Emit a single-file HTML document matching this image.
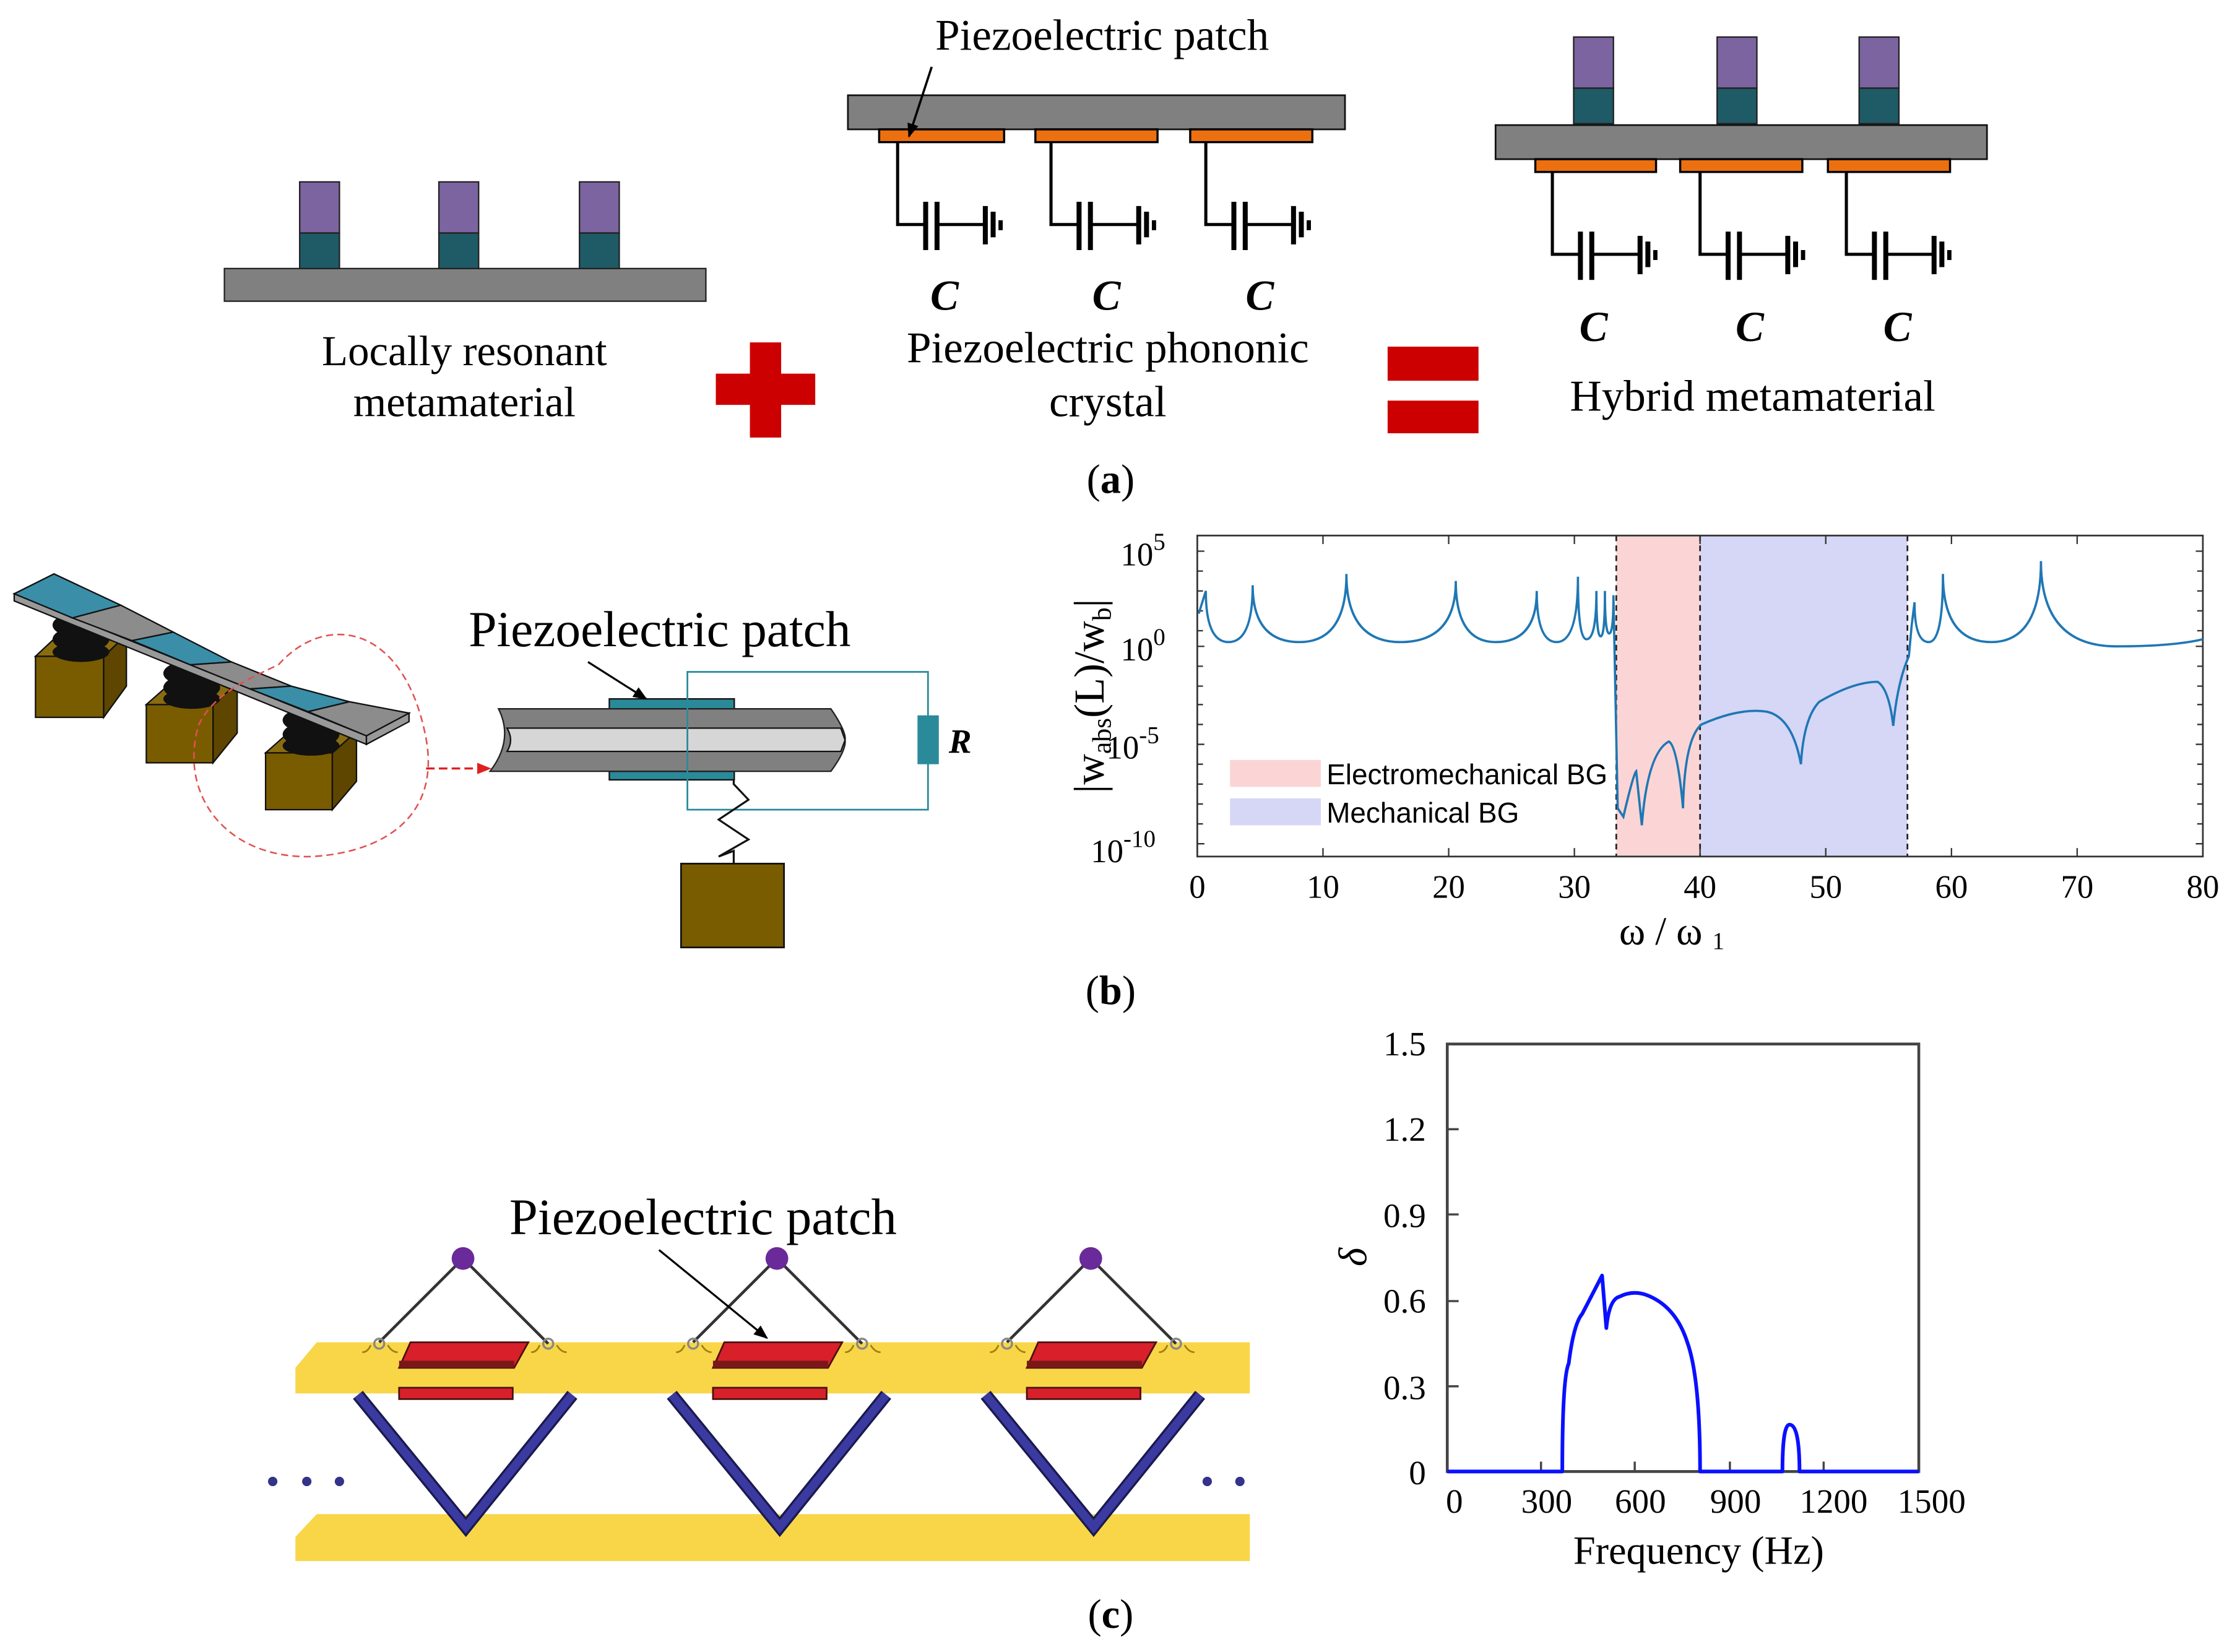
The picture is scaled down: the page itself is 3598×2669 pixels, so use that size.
<!DOCTYPE html>
<html><head><meta charset="utf-8"><style>
html,body{margin:0;padding:0;background:#fff;}
svg{display:block;}
.s{font-family:"Liberation Serif",serif;}
.a{font-family:"Liberation Sans",sans-serif;}
</style></head><body>
<svg width="3598" height="2669" viewBox="0 0 1568 1163" xmlns="http://www.w3.org/2000/svg">
<defs>
<g id="circ">
<path d="M0,0 V58 H20" fill="none" stroke="#000" stroke-width="2.2"/>
<rect x="18" y="42" width="3.5" height="34" fill="#000"/>
<rect x="26" y="42" width="3.5" height="34" fill="#000"/>
<line x1="29" y1="58" x2="61" y2="58" stroke="#000" stroke-width="2.2"/>
<rect x="60" y="45" width="3.5" height="27" fill="#000"/>
<rect x="65.5" y="49" width="3.5" height="18" fill="#000"/>
<rect x="71" y="55" width="3" height="7" fill="#000"/>
</g>
<g id="res">
<rect x="0" y="0" width="28" height="36" fill="#7b64a0" stroke="#222" stroke-width="1"/>
<rect x="0" y="36" width="28" height="25" fill="#1e5b66" stroke="#222" stroke-width="1"/>
</g>
<marker id="ah" markerWidth="10" markerHeight="8" refX="9" refY="4" orient="auto" markerUnits="userSpaceOnUse"><path d="M0,0 L10,4 L0,8 Z" fill="#000"/></marker>
<marker id="ahr" markerWidth="10" markerHeight="8" refX="9" refY="4" orient="auto" markerUnits="userSpaceOnUse"><path d="M0,0 L10,4 L0,8 Z" fill="#e02020"/></marker>
<g id="cell">
<path d="M252,982 L328,1075 L403,982" fill="none" stroke="#1a1a50" stroke-width="9"/>
<path d="M252,982 L328,1075 L403,982" fill="none" stroke="#3a3aa0" stroke-width="6"/>
<line x1="326" y1="886" x2="267" y2="945" stroke="#333" stroke-width="2"/>
<line x1="326" y1="886" x2="386" y2="946" stroke="#333" stroke-width="2"/>
<circle cx="326" cy="886" r="8" fill="#6a2a9a"/>
<circle cx="267" cy="946" r="3.5" fill="none" stroke="#888" stroke-width="1.5"/>
<circle cx="386" cy="946" r="3.5" fill="none" stroke="#888" stroke-width="1.5"/>
<path d="M255,952 q4,0 6,-5 M273,947 q3,5 7,5 M374,952 q4,0 6,-5 M392,947 q3,5 7,5" stroke="#a08010" stroke-width="1.2" fill="none"/>
<path d="M289,945 L372,945 L362,963 L281,963 Z" fill="#d8202a" stroke="#4a1010" stroke-width="1.2"/>
<rect x="281" y="958" width="81" height="5" fill="#7a1818"/>
<rect x="281" y="977" width="80" height="8" fill="#d8202a" stroke="#4a1010" stroke-width="1.2"/>
</g>
</defs>

<!-- (a) left -->
<rect x="158" y="189" width="339" height="23" fill="#808080" stroke="#222" stroke-width="1"/>
<use href="#res" x="211" y="128"/><use href="#res" x="309" y="128"/><use href="#res" x="408" y="128"/>
<text class="s" x="327" y="257" font-size="30" text-anchor="middle">Locally resonant</text>
<text class="s" x="327" y="293" font-size="30" text-anchor="middle">metamaterial</text>
<rect x="504" y="263" width="70" height="22" fill="#cc0000"/>
<rect x="528" y="241" width="22" height="67" fill="#cc0000"/>

<!-- (a) middle -->
<rect x="597" y="67" width="350" height="24" fill="#808080" stroke="#111" stroke-width="1.2"/>
<rect x="619" y="91" width="88" height="9" fill="#ec7010" stroke="#000" stroke-width="1.5"/>
<rect x="729" y="91" width="86" height="9" fill="#ec7010" stroke="#000" stroke-width="1.5"/>
<rect x="838" y="91" width="86" height="9" fill="#ec7010" stroke="#000" stroke-width="1.5"/>
<use href="#circ" x="632" y="100"/><use href="#circ" x="740" y="100"/><use href="#circ" x="849" y="100"/>
<text class="s" x="665" y="218" font-size="30" font-weight="bold" font-style="italic" text-anchor="middle">C</text>
<text class="s" x="779" y="218" font-size="30" font-weight="bold" font-style="italic" text-anchor="middle">C</text>
<text class="s" x="887" y="218" font-size="30" font-weight="bold" font-style="italic" text-anchor="middle">C</text>
<text class="s" x="776" y="35" font-size="31" text-anchor="middle">Piezoelectric patch</text>
<line x1="656" y1="47" x2="640" y2="96" stroke="#000" stroke-width="1.6" marker-end="url(#ah)"/>
<text class="s" x="780" y="255" font-size="31" text-anchor="middle">Piezoelectric phononic</text>
<text class="s" x="780" y="293" font-size="31" text-anchor="middle">crystal</text>
<rect x="977" y="244" width="64" height="24" fill="#cc0000"/>
<rect x="977" y="282" width="64" height="23" fill="#cc0000"/>

<!-- (a) right -->
<use href="#res" x="1108" y="26"/><use href="#res" x="1209" y="26"/><use href="#res" x="1309" y="26"/>
<rect x="1053" y="88" width="346" height="24" fill="#808080" stroke="#111" stroke-width="1.2"/>
<rect x="1081" y="112" width="85" height="9" fill="#ec7010" stroke="#000" stroke-width="1.5"/>
<rect x="1183" y="112" width="86" height="9" fill="#ec7010" stroke="#000" stroke-width="1.5"/>
<rect x="1287" y="112" width="86" height="9" fill="#ec7010" stroke="#000" stroke-width="1.5"/>
<use href="#circ" x="1093" y="121"/><use href="#circ" x="1197" y="121"/><use href="#circ" x="1300" y="121"/>
<text class="s" x="1122" y="240" font-size="30" font-weight="bold" font-style="italic" text-anchor="middle">C</text>
<text class="s" x="1232" y="240" font-size="30" font-weight="bold" font-style="italic" text-anchor="middle">C</text>
<text class="s" x="1336" y="240" font-size="30" font-weight="bold" font-style="italic" text-anchor="middle">C</text>
<text class="s" x="1234" y="289" font-size="31" text-anchor="middle">Hybrid metamaterial</text>
<text class="s" x="782" y="347" font-size="29" text-anchor="middle">(<tspan font-weight="bold">a</tspan>)</text>

<!-- (b) 3D beam -->
<g stroke="#111" stroke-width="1">
<rect x="25" y="462" width="48" height="43" fill="#7a5c00"/>
<path d="M73,462 L89,447 L89,483 L73,505 Z" fill="#5e4600"/>
<path d="M25,462 L41,447 L89,447 L73,462 Z" fill="#8a6c10"/>
<rect x="103" y="496" width="47" height="41" fill="#7a5c00"/>
<path d="M150,496 L167,481 L167,516 L150,537 Z" fill="#5e4600"/>
<path d="M103,496 L120,481 L167,481 L150,496 Z" fill="#8a6c10"/>
<rect x="187" y="530" width="47" height="40" fill="#7a5c00"/>
<path d="M234,530 L251,515 L251,550 L234,570 Z" fill="#5e4600"/>
<path d="M187,530 L204,515 L251,515 L234,530 Z" fill="#8a6c10"/>
</g>
<g fill="#111">
<ellipse cx="57" cy="440" rx="20" ry="9"/><ellipse cx="57" cy="450" rx="20" ry="9"/><ellipse cx="57" cy="459" rx="20" ry="7"/>
<ellipse cx="135" cy="474" rx="20" ry="9"/><ellipse cx="135" cy="484" rx="20" ry="9"/><ellipse cx="135" cy="492" rx="20" ry="7"/>
<ellipse cx="219" cy="507" rx="20" ry="9"/><ellipse cx="219" cy="517" rx="20" ry="9"/><ellipse cx="219" cy="525" rx="20" ry="7"/>
</g>
<path d="M10,418 L258,518 L258,524 L10,423 Z" fill="#999" stroke="#111" stroke-width="1"/>
<path d="M258,518 L288,502 L288,508 L258,524 Z" fill="#999" stroke="#111" stroke-width="1"/>
<g stroke="#111" stroke-width="1">
<path d="M10,418 L38,404 L85,426 L51,435 Z" fill="#3a8ea8"/>
<path d="M51,435 L85,426 L122,445 L93,451 Z" fill="#8c8c8c"/>
<path d="M93,451 L122,445 L163,466 L134,468 Z" fill="#3a8ea8"/>
<path d="M134,468 L163,466 L205,483 L176,485 Z" fill="#8c8c8c"/>
<path d="M176,485 L205,483 L246,494 L217,501 Z" fill="#3a8ea8"/>
<path d="M217,501 L246,494 L288,502 L258,518 Z" fill="#8c8c8c"/>
</g>
<path d="M196,468 C230,430 285,440 300,520 C310,575 270,600 220,603 C160,605 125,560 140,510 C150,490 170,480 196,468 Z" fill="none" stroke="#e05050" stroke-width="1.1" stroke-dasharray="5,3"/>
<line x1="300" y1="541" x2="345" y2="541" stroke="#e02020" stroke-width="1.5" stroke-dasharray="6,3" marker-end="url(#ahr)"/>

<!-- (b) beam section -->
<rect x="429" y="492" width="88" height="7" fill="#2a8a9a" stroke="#111" stroke-width="1"/>
<rect x="429" y="543" width="88" height="6" fill="#2a8a9a" stroke="#111" stroke-width="1"/>
<path d="M351,499 L585,499 Q596,515 595,521 Q596,528 585,543 L345,543 Q362,521 351,499 Z" fill="#808080" stroke="#222" stroke-width="1"/>
<path d="M357,512.6 L592,512.6 L595,521 L592,529 L357,529 Q362,521 357,512.6 Z" fill="#d6d6d6" stroke="#111" stroke-width="1"/>
<path d="M484,499 V473 H653.4 V570 H484 V499" fill="none" stroke="#2a8a9a" stroke-width="1.2"/>
<rect x="646" y="503.6" width="15" height="34.4" fill="#2a8a9a"/>
<text class="s" x="668" y="530" font-size="24" font-weight="bold" font-style="italic">R</text>
<path d="M516.6,549 L516.6,552 L527,563 L506,577 L527,591 L506,603 L516.6,599 L516.6,608" fill="none" stroke="#111" stroke-width="1.4"/>
<rect x="479.5" y="608" width="72.5" height="59" fill="#7a5c00" stroke="#111" stroke-width="1.2"/>
<text class="s" x="330" y="455" font-size="35.5">Piezoelectric patch</text>
<line x1="414" y1="466" x2="455" y2="492" stroke="#000" stroke-width="1.4" marker-end="url(#ah)"/>

<!-- (b) plot -->
<rect x="1138" y="377" width="59" height="226" fill="#fbd5d5"/>
<rect x="1197" y="377" width="146" height="226" fill="#d6d6f7"/>
<g stroke="#222" stroke-width="1.2" stroke-dasharray="4,3">
<line x1="1138" y1="377" x2="1138" y2="603"/><line x1="1197" y1="377" x2="1197" y2="603"/><line x1="1343" y1="377" x2="1343" y2="603"/>
</g>
<rect x="843" y="377" width="708" height="226" fill="none" stroke="#333" stroke-width="1.2"/>
<g stroke="#333" stroke-width="1">
<path d="M931.5,603 v-6 M1020,603 v-6 M1108.5,603 v-6 M1197,603 v-6 M1285.5,603 v-6 M1374,603 v-6 M1462.5,603 v-6
M931.5,377 v6 M1020,377 v6 M1108.5,377 v6 M1197,377 v6 M1285.5,377 v6 M1374,377 v6 M1462.5,377 v6"/>
<path d="M843,388 h5 M843,402 h4 M843,416 h4 M843,430 h4 M843,444 h4 M843,455 h5 M843,469 h4 M843,483 h4 M843,496 h4 M843,510 h4 M843,524 h5 M843,538 h4 M843,552 h4 M843,566 h4 M843,580 h4 M843,594 h5
M1551,388 h-5 M1551,402 h-4 M1551,416 h-4 M1551,430 h-4 M1551,444 h-4 M1551,455 h-5 M1551,469 h-4 M1551,483 h-4 M1551,496 h-4 M1551,510 h-4 M1551,524 h-5 M1551,538 h-4 M1551,552 h-4 M1551,566 h-4 M1551,580 h-4 M1551,594 h-5"/>
</g>
<path d="M844,432 L849,416 Q849,452 865,452 Q882,452 882,412 Q882,452 915,452 Q948,452 948,404 Q948,452 986,452 Q1025,452 1025,409 Q1025,452 1053,452 Q1082,452 1082,416 Q1082,452 1096,452 Q1111,452 1111,406 Q1111,450 1117,450 Q1124,450 1124,416 Q1124,448 1127,448 Q1130,448 1130,416 Q1130,446 1133,446 Q1136,446 1136,419 L1139,569 L1143,575 Q1150,545 1152,543 L1156,581 Q1160,530 1175,522 Q1181,525 1185,569 Q1186,520 1198,510 Q1225,498 1244,501 Q1262,505 1268,538 Q1270,505 1281,494 Q1305,480 1322,480 Q1330,485 1333,511 Q1336,480 1344,462 L1346,440 L1348,424 Q1348,452 1358,452 Q1368,452 1368,404 Q1368,452 1402,452 Q1437,452 1437,395 Q1437,455 1490,455 Q1530,455 1551,450" fill="none" stroke="#1f77b4" stroke-width="1.6"/>
<rect x="866" y="535" width="64" height="19" fill="#fbd5d5"/>
<rect x="866" y="562" width="64" height="19" fill="#d6d6f7"/>
<text class="a" x="934" y="552" font-size="20">Electromechanical BG</text>
<text class="a" x="934" y="579" font-size="20">Mechanical BG</text>
<g class="s" font-size="23" text-anchor="middle">
<text x="843" y="632">0</text><text x="931.5" y="632">10</text><text x="1020" y="632">20</text><text x="1108.5" y="632">30</text><text x="1197" y="632">40</text><text x="1285.5" y="632">50</text><text x="1374" y="632">60</text><text x="1462.5" y="632">70</text><text x="1551" y="632">80</text>
</g>
<g class="s" font-size="23">
<text x="789" y="398">10<tspan dy="-11" font-size="17">5</tspan></text>
<text x="789" y="465">10<tspan dy="-11" font-size="17">0</tspan></text>
<text x="779" y="534">10<tspan dy="-11" font-size="17">-5</tspan></text>
<text x="768" y="607">10<tspan dy="-11" font-size="17">-10</tspan></text>
</g>
<text class="s" font-size="30" transform="translate(777,490) rotate(-90)" text-anchor="middle">|w<tspan font-size="19" dy="5">abs</tspan><tspan dy="-5">(L)/w</tspan><tspan font-size="19" dy="5">b</tspan><tspan dy="-5">|</tspan></text>
<text class="s" x="1140" y="665" font-size="28">ω / ω <tspan font-size="17" dy="3">1</tspan></text>
<text class="s" x="782" y="707" font-size="29" text-anchor="middle">(<tspan font-weight="bold">b</tspan>)</text>

<!-- (c) lattice -->
<path d="M223,945 L880,945 L880,981 L208,981 L208,963 Z" fill="#f8d648"/>
<path d="M223,1066 L880,1066 L880,1099 L208,1099 L208,1082 Z" fill="#f8d648"/>
<use href="#cell"/><use href="#cell" x="221"/><use href="#cell" x="442"/>
<g fill="#33338a"><circle cx="192" cy="1043" r="3.3"/><circle cx="216" cy="1043" r="3.3"/><circle cx="239" cy="1043" r="3.3"/><circle cx="850" cy="1043" r="3.3"/><circle cx="873" cy="1043" r="3.3"/></g>
<text class="s" x="495" y="869" font-size="36" text-anchor="middle">Piezoelectric patch</text>
<line x1="464" y1="880" x2="540" y2="942" stroke="#000" stroke-width="1.4" marker-end="url(#ah)"/>

<!-- (c) plot -->
<rect x="1019" y="735" width="332" height="301" fill="none" stroke="#444" stroke-width="2"/>
<g stroke="#444" stroke-width="1.5">
<path d="M1019,976 h8 M1019,916 h8 M1019,855 h8 M1019,795 h8 M1085,1036 v-7 M1151,1036 v-7 M1218,1036 v-7 M1284,1036 v-7"/>
</g>
<path d="M1019,1036 L1100,1036 Q1100,970 1104.5,960 Q1108,932 1114,925 L1128,898 L1131,935 Q1133,915 1140,913 Q1150,908 1160,912 Q1180,920 1188,945 Q1197,970 1197,1036 L1255,1036 Q1255,1003 1260,1003 Q1267,1003 1267,1036 L1351,1036" fill="none" stroke="#0a10ff" stroke-width="2.6" stroke-linejoin="round"/>
<g class="s" font-size="24" text-anchor="end">
<text x="1004" y="743">1.5</text><text x="1004" y="803">1.2</text><text x="1004" y="864">0.9</text><text x="1004" y="924">0.6</text><text x="1004" y="985">0.3</text><text x="1004" y="1045">0</text>
</g>
<g class="s" font-size="24" text-anchor="middle">
<text x="1024" y="1065">0</text><text x="1089" y="1065">300</text><text x="1155" y="1065">600</text><text x="1222" y="1065">900</text><text x="1291" y="1065">1200</text><text x="1360" y="1065">1500</text>
</g>
<text class="s" font-size="28" font-style="italic" transform="translate(962,885) rotate(-90)" text-anchor="middle">δ</text>
<text class="s" x="1196" y="1101" font-size="28" text-anchor="middle">Frequency (Hz)</text>
<text class="s" x="782" y="1146" font-size="29" text-anchor="middle">(<tspan font-weight="bold">c</tspan>)</text>
</svg>
</body></html>
